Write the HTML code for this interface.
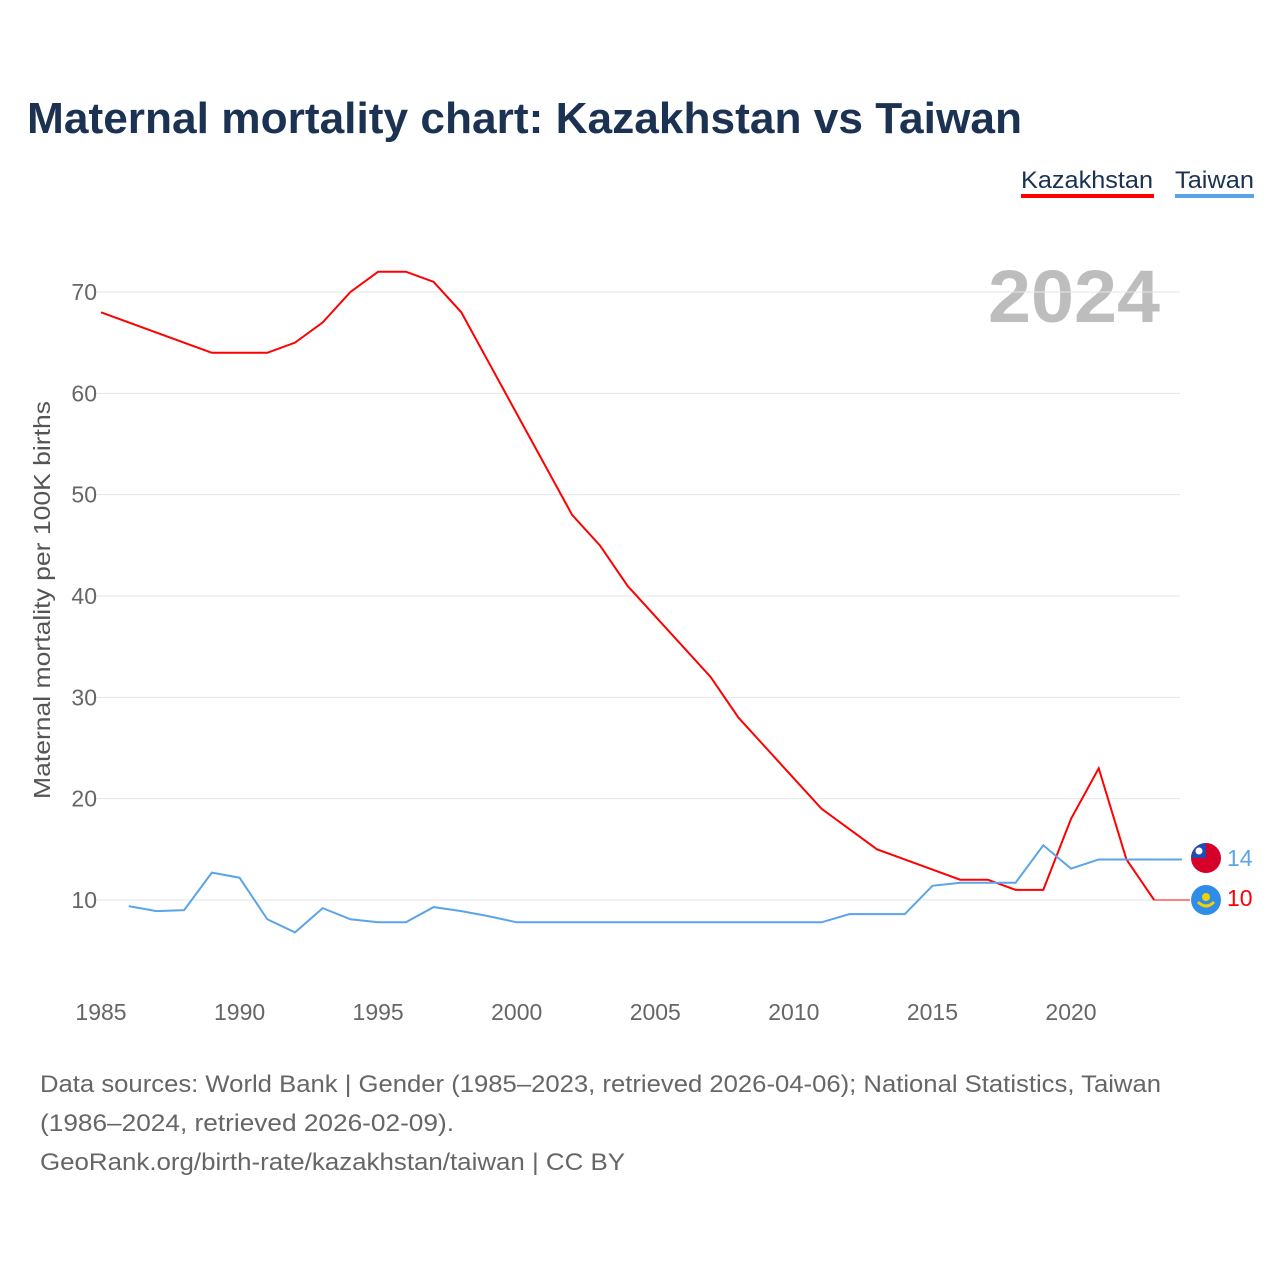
<!DOCTYPE html>
<html><head><meta charset="utf-8"><style>
body{margin:0;background:#fff;font-family:"Liberation Sans",sans-serif;}
#wrap{position:relative;width:1280px;height:1280px;overflow:hidden;}
</style></head><body>
<div id="wrap">
<svg id="chart" width="1280" height="1280">
<text x="27" y="133" font-size="44" font-weight="bold" fill="#1b3252" textLength="995" lengthAdjust="spacingAndGlyphs">Maternal mortality chart: Kazakhstan vs Taiwan</text>
<g>
<text x="1021" y="188" font-size="24" fill="#1b3252" textLength="132" lengthAdjust="spacingAndGlyphs">Kazakhstan</text>
<rect x="1021" y="194" width="133" height="4" fill="#f00"/>
<text x="1175" y="188" font-size="24" fill="#1b3252" textLength="79" lengthAdjust="spacingAndGlyphs">Taiwan</text>
<rect x="1175" y="194" width="79" height="4" fill="#5ba4ea"/>
</g>
<text x="1160" y="322" font-size="74" font-weight="bold" fill="#bdbdbd" text-anchor="end" textLength="172" lengthAdjust="spacingAndGlyphs">2024</text>
<text transform="translate(50,600) rotate(-90)" font-size="23" fill="#555" text-anchor="middle" textLength="398" lengthAdjust="spacingAndGlyphs">Maternal mortality per 100K births</text>
<g id="grid"></g><g id="xt"></g><g id="lines"></g>
<g>
<circle cx="1206" cy="858" r="15" fill="#d7002a"/>
<path d="M1191 858 A15 15 0 0 1 1206 843 L1206 858 Z" fill="#1f4db0"/>
<circle cx="1199" cy="851" r="3.5" fill="#fff"/>
<text x="1227" y="866" font-size="23" fill="#5ba4ea">14</text>
</g>
<g>
<circle cx="1206" cy="900" r="15" fill="#2f8ce8"/>
<circle cx="1206" cy="897" r="4" fill="#f5d000"/>
<path d="M1198 902 Q1206 910 1214 902" stroke="#f5d000" stroke-width="3" fill="none"/>
<text x="1227" y="906" font-size="23" fill="#f00">10</text>
</g>
<g font-size="24" fill="#666">
<text x="40" y="1092" textLength="1121" lengthAdjust="spacingAndGlyphs">Data sources: World Bank | Gender (1985–2023, retrieved 2026-04-06); National Statistics, Taiwan</text>
<text x="40" y="1131" textLength="414" lengthAdjust="spacingAndGlyphs">(1986–2024, retrieved 2026-02-09).</text>
<text x="40" y="1170" textLength="585" lengthAdjust="spacingAndGlyphs">GeoRank.org/birth-rate/kazakhstan/taiwan | CC BY</text>
</g>
</svg>
</div>
<script>
const kazYears=[1985,1986,1987,1988,1989,1990,1991,1992,1993,1994,1995,1996,1997,1998,1999,2000,2001,2002,2003,2004,2005,2006,2007,2008,2009,2010,2011,2012,2013,2014,2015,2016,2017,2018,2019,2020,2021,2022,2023];
const kazValues=[68,67,66,65,64,64,64,65,67,70,72,72,71,68,63,58,53,48,45,41,38,35,32,28,25,22,19,17,15,14,13,12,12,11,11,18,23,14,10];
const twYears=[1986,1987,1988,1989,1990,1991,1992,1993,1994,1995,1996,1997,1998,1999,2000,2001,2002,2003,2004,2005,2006,2007,2008,2009,2010,2011,2012,2013,2014,2015,2016,2017,2018,2019,2020,2021,2022,2023,2024];
const twValues=[9.4,8.9,9.0,12.7,12.2,8.1,6.8,9.2,8.1,7.8,7.8,9.3,8.9,8.4,7.8,7.8,7.8,7.8,7.8,7.8,7.8,7.8,7.8,7.8,7.8,7.8,8.6,8.6,8.6,11.4,11.7,11.7,11.7,15.4,13.1,14.0,14.0,14.0,14.0];
const yTicks=[10,20,30,40,50,60,70];
const xTicks=[1985,1990,1995,2000,2005,2010,2015,2020];
const X=y=>101+(y-1985)*970/35;
const Y=v=>900-(v-10)*608/60;
const NS='http://www.w3.org/2000/svg';
function mk(tag,parent,attrs){const e=document.createElementNS(NS,tag);for(const k in attrs)e.setAttribute(k,attrs[k]);document.getElementById(parent).appendChild(e);return e;}
yTicks.forEach(t=>{
 const l=mk('line','grid',{x1:96,x2:1180,y1:Y(t),y2:Y(t),stroke:'#e6e6e6','stroke-width':1});
 
 
 const tx=mk('text','grid',{x:97,y:Y(t)+8,'font-size':23,fill:'#666','text-anchor':'end'});
 tx.textContent=t;
 
 
});
xTicks.forEach(t=>{
 const tx=mk('text','xt',{x:X(t),y:1020,'font-size':23,fill:'#666','text-anchor':'middle'});
 tx.textContent=t;
 
 
});
const kp=mk('polyline','lines',{points:kazYears.map((y,i)=>X(y)+','+Y(kazValues[i])).join(' '),fill:'none',stroke:'#f00','stroke-width':2});


const kl=kazYears.length-1;
const ke=mk('line','lines',{x1:X(kazYears[kl]),y1:Y(kazValues[kl]),x2:1190,y2:Y(kazValues[kl]),stroke:'#f00','stroke-width':1});


const tp=mk('polyline','lines',{points:twYears.map((y,i)=>X(y)+','+Y(twValues[i])).join(' '),fill:'none',stroke:'#5ba4ea','stroke-width':2});


</script>
</body></html>
